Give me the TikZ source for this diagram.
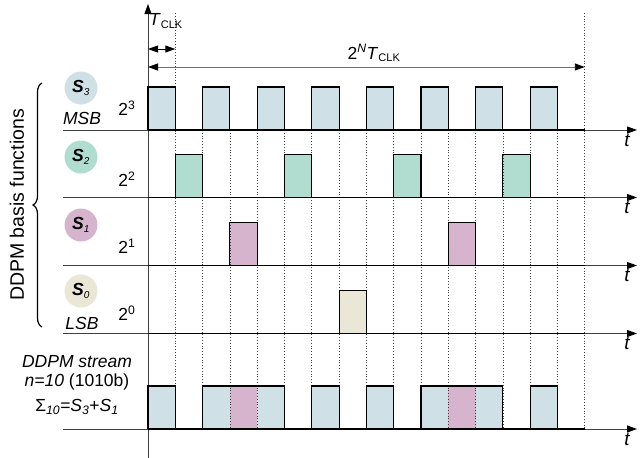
\documentclass[tikz,border=0pt]{standalone}
\usepackage{fontspec}
\setmainfont{Liberation Sans}
\usetikzlibrary{arrows.meta,calc,decorations.pathreplacing}

\definecolor{bitthree}{HTML}{CFE1E7}
\definecolor{bittwo}{HTML}{B1DDD0}
\definecolor{bitone}{HTML}{D7B4CD}
\definecolor{bitzero}{HTML}{EAE7D6}
\newcommand{\slotw}{27.3}
\newcommand{\bitname}[1]{\textbf{\textit{S}}\textsubscript{\fontsize{10}{11}\selectfont\textit{#1}}}

\begin{document}
\begin{tikzpicture}[x=1pt, y=-1pt,
  every node/.style={font=\fontsize{17.5}{20}\selectfont, inner sep=0pt},
  bitcircle/.style={circle, minimum size=33pt},
  axisline/.style={draw=black!75, line width=0.9pt, -{Triangle[length=10pt,width=7pt,color=black]}},
  dimline/.style={draw=black!55, line width=0.9pt, {Triangle[length=10pt,width=7pt,color=black]}-{Triangle[length=10pt,width=7pt,color=black]}},
  pulse/.style={draw=black, line width=1.1pt, line join=miter},
  slotline/.style={draw=black!75, dotted, line width=0.8pt},
  tlabel/.style={font=\fontsize{19}{20}\selectfont\itshape}
]
\useasboundingbox (0,0) rectangle (641,458);

% time axes of the five rows
\foreach \yb [count=\r] in {130,197.5,265.5,333.5,429} {
  \coordinate (rowstart\r) at (63,\yb);
  \coordinate (rowend\r) at (637,\yb);
  \draw[axisline] (rowstart\r) -- (rowend\r);
  \node[tlabel] (tlab\r) at (627,\yb+10) {t};
}
\coordinate (origin) at (148,458);
\coordinate (axistop) at (148,4);
\draw[axisline] (origin) -- (axistop);

% fills of the pulses
\foreach \yb/\col/\slots in {130/bitthree/{0,2,4,6,8,10,12,14}, 197.5/bittwo/{1,5,9,13},
    265.5/bitone/{3,11}, 333.5/bitzero/{7}, 429/bitthree/{0,2,4,6,8,10,12,14}, 429/bitone/{3,11}}
  \foreach \k in \slots
    \fill[\col] ({148+\k*\slotw},\yb) rectangle ++(\slotw,-43);

% clock slots
\foreach \k in {2,...,15}
  \draw[slotline] ({148+\k*\slotw},130) -- ({148+\k*\slotw},429);
\foreach \k in {1,16}
  \draw[slotline] ({148+\k*\slotw},13) -- ({148+\k*\slotw},429);

% outlines of the pulses
\foreach \yb/\slots in {130/{0,2,4,6,8,10,12,14}, 197.5/{1,5,9,13}, 265.5/{3,11}, 333.5/{7}}
  \foreach \k in \slots
    \draw[pulse] ({148+\k*\slotw},\yb) -- ++(0,-43) -- ++(\slotw,0) -- ++(0,43);
\foreach \a/\b in {0/1, 2/5, 6/7, 8/9, 10/13, 14/15}
  \draw[pulse] ({148+\a*\slotw},429) -- ++(0,-43) -- ({148+\b*\slotw},386) -- ++(0,43);
\foreach \yb in {130,197.5,265.5,333.5,429}
  \draw[pulse] (148,\yb) -- ({148+16*\slotw},\yb);

% clock period and frame length
\coordinate (clkleft) at (148,49);
\coordinate (clkright) at ({148+\slotw},49);
\coordinate (frameleft) at (148,67);
\coordinate (frameright) at ({148+16*\slotw},67);
\draw[dimline, draw=black] (clkleft) -- (clkright);
\draw[dimline] (frameleft) -- (frameright);
\node[anchor=west] (tclk) at (149,21) {\textit{T}\textsubscript{\fontsize{11}{12}\selectfont CLK}};
\node (period) at (374,53) {2\textsuperscript{\textit{N}}\textit{T}\textsubscript{\fontsize{11}{12}\selectfont CLK}};

% basis functions
\node[bitcircle, fill=bitthree] (basis3) at (81,88) {\bitname{3}};
\node[bitcircle, fill=bittwo] (basis2) at (81,157) {\bitname{2}};
\node[bitcircle, fill=bitone] (basis1) at (81,225) {\bitname{1}};
\node[bitcircle, fill=bitzero] (basis0) at (81,291) {\bitname{0}};
\node (msb) at (82,118) {\textit{MSB}};
\node (lsb) at (82,323) {\textit{LSB}};
\node (weight3) at (127,108) {2\textsuperscript{3}};
\node (weight2) at (127,179) {2\textsuperscript{2}};
\node (weight1) at (127,246) {2\textsuperscript{1}};
\node (weight0) at (127,313) {2\textsuperscript{0}};

\coordinate (bracetop) at (42,83);
\coordinate (bracebot) at (42,327);
\draw[decorate, decoration={brace, amplitude=9pt}, line width=1.2pt] (bracebot) -- (bracetop);
\node[rotate=90, font=\fontsize{19.5}{20}\selectfont] (basistext) at (17,205) {DDPM basis functions};

% resulting stream
\node (streamname) at (77,362) {\textit{DDPM stream}};
\node (streamcode) at (77,382) {\textit{n=10} (1010b)};
\node (streamsum) at (77,407) {Σ\textsubscript{\textit{10}}=\textit{S}\textsubscript{\textit{3}}+\textit{S}\textsubscript{\textit{1}}};
\end{tikzpicture}
\end{document}
